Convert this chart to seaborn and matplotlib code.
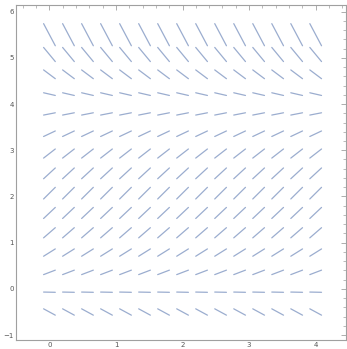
import numpy as np
import pandas as pd
import matplotlib
matplotlib.use("Agg")
import matplotlib.pyplot as plt
from matplotlib.ticker import MultipleLocator
import seaborn as sns

# Grid of slope-field sample points
x_points = [0.0, 0.2857, 0.5714, 0.8571, 1.1429, 1.4286, 1.7143, 2.0,
            2.2857, 2.5714, 2.8571, 3.1429, 3.4286, 3.7143, 4.0]
y_points = [-0.5, -0.0714, 0.3571, 0.7857, 1.2143, 1.6429, 2.0714, 2.5,
            2.9286, 3.3571, 3.7857, 4.2143, 4.6429, 5.0714, 5.5]
# slope read per row (autonomous field: same in every column)
row_slopes = [-0.78, -0.03, 0.55, 0.90, 1.25, 1.36, 1.43, 1.33,
              1.12, 0.68, 0.28, -0.33, -1.08, -1.74, -2.72]
x_ticks = [0, 1, 2, 3, 4]
y_ticks = [-1, 0, 1, 2, 3, 4, 5, 6]

half_dx = 0.088

rows = []
seg = 0
for yc, s in zip(y_points, row_slopes):
    for xc in x_points:
        rows.append({"seg": seg, "x": xc - half_dx, "y": yc - s * half_dx})
        rows.append({"seg": seg, "x": xc + half_dx, "y": yc + s * half_dx})
        seg += 1
df = pd.DataFrame(rows)

sns.set_theme(style="white")
plt.rcParams["font.family"] = ["DejaVu Sans"]

fig = plt.figure(figsize=(3.47, 3.49), dpi=100)
ax = fig.add_axes([0.046, 0.025, 0.951, 0.961])

sns.lineplot(data=df, x="x", y="y", units="seg", estimator=None, sort=False,
             color="#9badcf", linewidth=0.9, ax=ax, legend=False)

ax.set_xlim(-0.503, 4.455)
ax.set_ylim(-1.112, 6.145)
ax.set_xlabel("")
ax.set_ylabel("")
ax.set_xticks(x_ticks)
ax.set_yticks(y_ticks)
ax.xaxis.set_minor_locator(MultipleLocator(0.2))
ax.yaxis.set_minor_locator(MultipleLocator(0.2))
for sp in ax.spines.values():
    sp.set_color("#a0a0a0")
    sp.set_linewidth(0.8)
ax.tick_params(which="both", direction="in", top=True, right=True,
               color="#a0a0a0", labelsize=5, labelcolor="#555555", pad=1.5)
ax.tick_params(which="major", length=3.5, width=0.6)
ax.tick_params(which="minor", length=2, width=0.5)

fig.savefig("out.png", dpi=100)
